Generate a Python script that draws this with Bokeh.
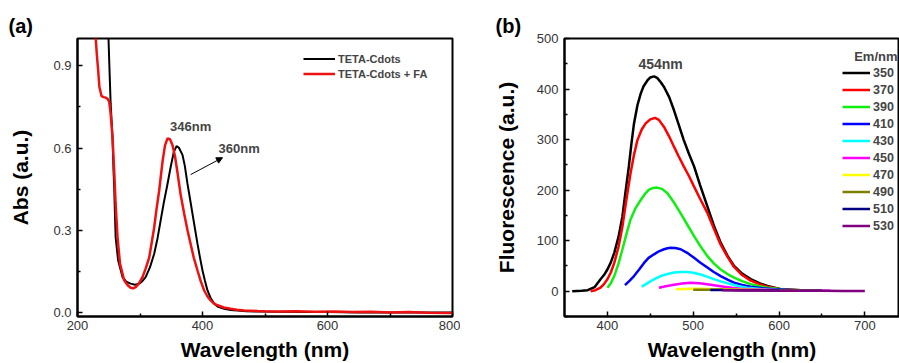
from bokeh.plotting import figure
from bokeh.models import (Legend, LegendItem, Label, Arrow, NormalHead, FixedTicker,
                          PrintfTickFormatter, Range1d)
from bokeh.layouts import row
from bokeh.embed import file_html
from bokeh.resources import INLINE

# ---------------- Panel (a): absorbance ----------------
abs_x_black = [248, 249.6, 251, 253, 256, 257.6, 258.7, 261, 265, 272, 278, 285, 292, 298.7, 304, 309,
               316, 322.7, 328, 333, 338, 343, 349, 354, 358.4, 362, 368, 371.7, 376, 380, 384, 388,
               392, 396, 400, 404, 408, 413, 418.7, 425, 434.7, 445, 456, 470, 490, 520, 560, 600,
               650, 700, 750, 800]
abs_black = [1.08, 1.0, 0.9, 0.763, 0.64, 0.52, 0.457, 0.275, 0.19, 0.129, 0.112, 0.105, 0.101, 0.105,
             0.115, 0.129, 0.165, 0.214, 0.27, 0.335, 0.40, 0.457, 0.53, 0.585, 0.607, 0.602, 0.575,
             0.535, 0.469, 0.415, 0.36, 0.305, 0.25, 0.20, 0.153, 0.115, 0.08, 0.052, 0.032, 0.02,
             0.013, 0.009, 0.007, 0.004, 0.003, 0.002, 0.001, 0.001, 0.0, 0.0, 0.0, 0.0]

abs_x_red = [228, 229, 231, 233, 235, 238.4, 242, 245, 248, 250.7, 253, 256, 258.7, 261, 264, 268,
             274.6, 280, 285, 289, 293, 298, 304, 309, 314.7, 318, 322.7, 326, 330.7, 336, 340, 344,
             348, 352, 356, 360, 365, 370.7, 376, 381, 386, 392, 397, 402.7, 408, 413, 418, 424, 434,
             445, 455, 466.7, 478, 488, 500, 520, 550, 580, 610, 640, 670, 700, 730, 760, 800]
abs_red = [1.05, 1.006, 0.94, 0.885, 0.824, 0.79, 0.786, 0.784, 0.78, 0.77, 0.726, 0.64, 0.518, 0.396,
           0.275, 0.178, 0.117, 0.10, 0.09, 0.088, 0.092, 0.105, 0.129, 0.16, 0.2, 0.245, 0.31, 0.37,
           0.445, 0.55, 0.61, 0.635, 0.632, 0.61, 0.57, 0.51, 0.43, 0.36, 0.30, 0.25, 0.20, 0.153,
           0.115, 0.08, 0.058, 0.044, 0.033, 0.026, 0.018, 0.013, 0.010, 0.007, 0.006, 0.005, 0.004,
           0.003, 0.004, 0.002, 0.003, 0.001, 0.002, 0.0, 0.001, -0.001, -0.002]

abs_labels = ["TETA-Cdots", "TETA-Cdots + FA"]
abs_xticks = [200, 400, 600, 800]
abs_yticks = [0.0, 0.3, 0.6, 0.9]

# ---------------- Panel (b): fluorescence ----------------
em_labels = ["350", "370", "390", "410", "430", "450", "470", "490", "510", "530"]
em_colors = ["#000000", "#ff0000", "#11ee11", "#0000ff", "#00ffff", "#ff00ff", "#ffff00",
             "#808000", "#000080", "#800080"]

fl_x_350 = [359, 370, 377, 385, 392, 396, 400, 404, 408, 413, 417.5, 421, 425, 428, 431, 435, 438.8,
            442, 446.6, 450, 454.3, 458, 462, 466, 472, 477.6, 483, 489, 495, 501, 508, 516.5, 524,
            532, 540, 547.6, 557, 567, 577, 586.5, 602, 625, 650]
fl_350 = [0, 1, 2, 8, 23.6, 32, 43, 57, 76, 108, 148, 195, 247, 292, 332, 368, 391, 405, 417, 423,
          425, 422, 414, 404, 384, 358, 330, 299, 272, 247, 210, 168, 130, 96, 70, 50, 35, 24, 16,
          10.4, 4, 2, 1]
fl_x_370 = [380.5, 386, 392, 396, 400, 404, 408, 413, 417.5, 422, 427, 431, 435, 440, 444.6, 450,
            455.5, 460, 466, 472, 477.6, 483, 489, 495, 501, 508, 516.5, 524, 532, 540, 547.6, 557,
            567, 577, 586.5, 602, 625]
fl_370 = [0, 2, 7, 14, 23.6, 37, 56, 88, 128, 180, 234, 270, 299, 320, 332, 340, 343, 339, 325, 306,
          286, 267, 247, 228, 207, 183, 155, 124, 92, 68, 48, 32, 21, 14, 9, 4, 2]
fl_x_390 = [400, 404, 408, 413, 417.5, 422, 427, 433, 439, 444, 448.5, 453, 458, 464, 470, 477, 485,
            493, 501, 508, 516.5, 524, 532, 540, 547.6, 557, 567, 577, 586.5, 608, 625]
fl_390 = [7, 16, 30, 55, 83, 112, 142, 165, 181, 193, 201, 204, 205, 202, 194, 177, 155, 132, 109,
          90, 69.5, 55, 43, 34, 27, 20, 14, 10, 7, 3, 2]
fl_x_410 = [420.5, 426, 431, 437, 442.7, 448, 454.3, 460, 466, 470, 473.8, 479, 485.4, 493, 501,
            508, 516.5, 524, 532, 540, 547.6, 557, 567, 580, 594, 620, 640]
fl_410 = [12, 21, 30, 43, 56, 66, 73, 79, 83, 85, 86, 85.5, 83, 76, 66, 57, 47, 38, 30, 23, 17, 12.5,
          9, 6, 4, 2, 1.5]
fl_x_430 = [440, 445, 450.5, 456, 462, 470, 477.6, 485, 493, 500, 508.7, 516, 524, 533, 543.7, 553,
            563, 575, 586, 600, 620, 650]
fl_430 = [9, 14, 20, 25, 30, 34, 37, 38, 38, 36.5, 33, 29, 24, 19, 14, 10, 7, 5, 3, 2, 1.5, 1]
fl_x_450 = [460, 468, 477.6, 487, 497, 507, 516.5, 526, 536, 545, 555, 570, 586, 600, 620, 660]
fl_450 = [7, 10, 13, 15.5, 17, 16, 14, 11.5, 9, 7, 5, 4, 3, 2, 1.5, 1]
fl_x_470 = [480, 490, 500, 510, 520, 535, 550, 575, 600, 650]
fl_470 = [4, 4.5, 5, 5, 4.5, 4, 3.5, 2.5, 2, 1]
fl_x_490 = [500, 515, 530, 545, 560, 580, 600, 650]
fl_490 = [3, 3, 3, 2.8, 2.5, 2, 1.5, 1]
fl_x_510 = [520, 535, 550, 575, 600, 650]
fl_510 = [2.5, 2.2, 2, 1.8, 1.5, 1]
fl_x_530 = [534, 545, 560, 580, 600, 625, 650, 675, 700]
fl_530 = [2, 1.8, 1.5, 1.2, 1, 0.8, 0.7, 0.6, 0.5]

fl_xs = [fl_x_350, fl_x_370, fl_x_390, fl_x_410, fl_x_430, fl_x_450, fl_x_470, fl_x_490, fl_x_510, fl_x_530]
fl_ys = [fl_350, fl_370, fl_390, fl_410, fl_430, fl_450, fl_470, fl_490, fl_510, fl_530]
fl_xticks = [400, 500, 600, 700]
fl_yticks = [0, 100, 200, 300, 400, 500]

FONT = "Liberation Sans"


def style_axes(p):
    for ax in p.axis:
        ax.axis_line_width = 2
        ax.axis_line_color = "black"
        ax.major_tick_in = 5
        ax.major_tick_out = 0
        ax.minor_tick_in = 3
        ax.minor_tick_out = 0
        ax.major_tick_line_width = 1.5
        ax.minor_tick_line_width = 1.5
        ax.major_label_text_font = FONT
        ax.major_label_text_font_size = "13px"
        ax.major_label_text_color = "#333333"
        ax.axis_label_text_font = FONT
        ax.axis_label_text_font_style = "bold"
        ax.axis_label_text_font_size = "21px"
        ax.axis_label_text_color = "black"
    p.grid.visible = False
    p.background_fill_color = "white"
    p.border_fill_color = "white"
    p.outline_line_color = "black"
    p.outline_line_width = 2
    p.outline_line_alpha = 1


def style_title(p, text):
    p.title.text = text
    p.title.align = "left"
    p.title.offset = -69
    p.title.standoff = 4
    p.title.text_font = FONT
    p.title.text_font_style = "bold"
    p.title.text_font_size = "20px"
    p.title.text_color = "black"


# ---- figure a ----
p1 = figure(width=460, height=363, x_range=Range1d(200, 800), y_range=Range1d(-0.015, 1.0),
            output_backend="svg", toolbar_location=None,
            min_border_left=77, min_border_right=8, min_border_top=38, min_border_bottom=47)

r_black = p1.line(abs_x_black, abs_black, line_color="black", line_width=2)
r_red = p1.line(abs_x_red, abs_red, line_color="#ee1111", line_width=2.5)

p1.xaxis.ticker = FixedTicker(ticks=abs_xticks, minor_ticks=[300, 500, 700])
p1.yaxis.ticker = FixedTicker(ticks=abs_yticks, minor_ticks=[0.15, 0.45, 0.75])
p1.yaxis.formatter = PrintfTickFormatter(format="%.1f")
p1.xaxis.axis_label = "Wavelength (nm)"
p1.yaxis.axis_label = "Abs (a.u.)"
style_axes(p1)
p1.xaxis.major_label_standoff = 4
p1.xaxis.axis_label_standoff = 5
p1.yaxis.major_label_standoff = 6
p1.yaxis.axis_label_standoff = 18
style_title(p1, "(a)")

leg1 = Legend(items=[LegendItem(label=abs_labels[0], renderers=[r_black]),
                     LegendItem(label=abs_labels[1], renderers=[r_red])],
              location=(226, 235), glyph_width=32, glyph_height=15, label_height=15,
              spacing=0, padding=0, margin=0, label_standoff=3,
              border_line_color=None, background_fill_alpha=0,
              label_text_font=FONT, label_text_font_style="bold", label_text_font_size="11px")
p1.add_layout(leg1)

p1.add_layout(Label(x=381, y=0.678, text="346nm", text_font=FONT, text_font_style="bold",
                    text_font_size="13px", text_align="center", text_baseline="middle"))
p1.add_layout(Label(x=425.6, y=0.60, text="360nm", text_font=FONT, text_font_style="bold",
                    text_font_size="13px", text_align="left", text_baseline="middle"))
p1.add_layout(Arrow(x_start=381, y_start=0.503, x_end=432, y_end=0.565, line_width=1,
                    end=NormalHead(size=6, fill_color="black", line_color="black")))

# ---- figure b ----
p2 = figure(width=439, height=363, x_range=Range1d(350, 740.4), y_range=Range1d(-50, 500),
            output_backend="svg", toolbar_location=None,
            min_border_left=104, min_border_right=0, min_border_top=38, min_border_bottom=45)

renderers = []
for xs, ys, c in zip(fl_xs, fl_ys, em_colors):
    renderers.append(p2.line(xs, ys, line_color=c, line_width=2.5))

p2.xaxis.ticker = FixedTicker(ticks=fl_xticks, minor_ticks=[450, 550, 650])
p2.yaxis.ticker = FixedTicker(ticks=fl_yticks, minor_ticks=[-50, 50, 150, 250, 350, 450])
p2.xaxis.axis_label = "Wavelength (nm)"
p2.yaxis.axis_label = "Fluorescence (a.u.)"
style_axes(p2)
p2.xaxis.major_label_standoff = 4
p2.xaxis.axis_label_standoff = 5
p2.yaxis.major_label_standoff = 6
p2.yaxis.axis_label_standoff = 16
style_title(p2, "(b)")

leg2 = Legend(items=[LegendItem(label=l, renderers=[r]) for l, r in zip(em_labels, renderers)],
              location=(278, 82), glyph_width=28, glyph_height=17, label_height=17,
              spacing=0, padding=0, margin=0, label_standoff=3,
              border_line_color=None, background_fill_alpha=0,
              label_text_font=FONT, label_text_font_style="bold", label_text_font_size="12.5px")
p2.add_layout(leg2)
p2.add_layout(Label(x=333, y=260, x_units="screen", y_units="screen", text="Em/nm",
                    text_font=FONT, text_font_style="bold", text_font_size="13px",
                    text_align="right", text_baseline="middle"))
p2.add_layout(Label(x=462, y=449, text="454nm", text_font=FONT, text_font_style="bold",
                    text_font_size="14px", text_align="center", text_baseline="middle"))

layout = row(p1, p2)
open("out.html", "w").write(file_html(layout, INLINE))
